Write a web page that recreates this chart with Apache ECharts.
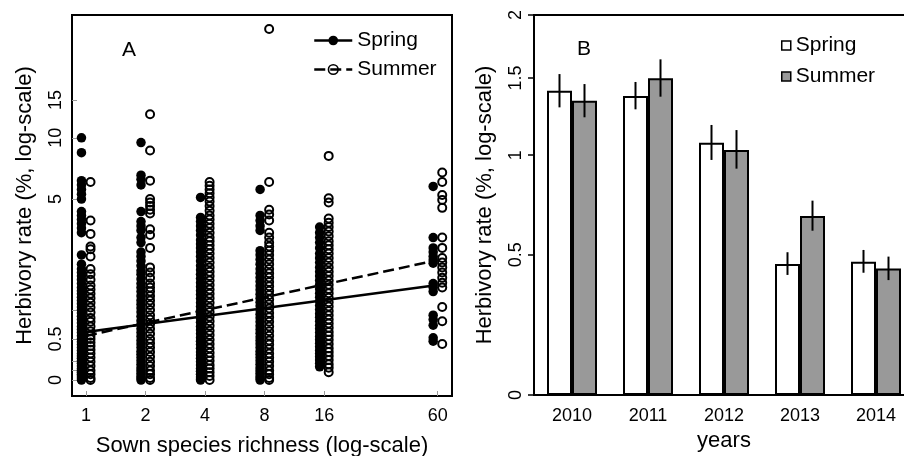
<!DOCTYPE html>
<html><head><meta charset="utf-8">
<script src="https://cdn.jsdelivr.net/npm/echarts@6/dist/echarts.min.js"></script>
<style>html,body{margin:0;padding:0;background:#fff}#c{width:904px;height:456px}</style>
</head><body><div id="c"></div>
<script>
// ---------- Panel A data (herbivory rate, %) ----------
const richness = [1, 2, 4, 8, 16, 60];
const spring_1 = [10.0, 8.5, 6.2, 5.9, 5.6, 5.3, 5.0, 4.3, 4.1, 3.9, 3.7, 3.5, 3.3, 2.45, 2.15, 2.0, 1.9, 1.8, 1.7, 1.6, 1.5, 1.42, 1.35, 1.27, 1.2, 1.13, 1.06, 1.0, 0.94, 0.88, 0.82, 0.76, 0.7, 0.65, 0.6, 0.55, 0.5, 0.46, 0.42, 0.38, 0.34, 0.3, 0.27, 0.24, 0.21, 0.18, 0.15, 0.12, 0.1, 0.08, 0.06, 0.04, 0.02, 0];
const summer_1 = [6.1, 3.85, 3.25, 2.75, 2.65, 2.4, 2.0, 1.85, 1.7, 1.55, 1.45, 1.35, 1.25, 1.15, 1.05, 0.95, 0.85, 0.78, 0.7, 0.62, 0.55, 0.5, 0.45, 0.4, 0.35, 0.3, 0.25, 0.2, 0.15, 0.1, 0.06, 0.02, 0];
const spring_2 = [9.5, 6.6, 6.3, 5.9, 4.3, 3.8, 3.6, 3.4, 3.1, 2.9, 2.55, 2.4, 2.25, 2.1, 1.95, 1.85, 1.72, 1.6, 1.5, 1.4, 1.3, 1.2, 1.12, 1.04, 0.96, 0.88, 0.8, 0.73, 0.66, 0.6, 0.54, 0.48, 0.43, 0.38, 0.33, 0.29, 0.25, 0.21, 0.17, 0.13, 0.1, 0.07, 0.04, 0.02, 0];
const summer_2 = [12.9, 8.7, 6.2, 5.0, 4.8, 4.6, 4.4, 4.2, 3.45, 3.2, 2.7, 2.05, 1.9, 1.75, 1.6, 1.5, 1.4, 1.3, 1.2, 1.1, 1.0, 0.9, 0.82, 0.74, 0.66, 0.58, 0.5, 0.44, 0.38, 0.32, 0.26, 0.2, 0.15, 0.1, 0.06, 0.02, 0];
const spring_4 = [5.1, 4.0, 3.8, 3.6, 3.4, 3.2, 3.0, 2.85, 2.7, 2.55, 2.4, 2.25, 2.1, 1.97, 1.85, 1.73, 1.62, 1.52, 1.42, 1.33, 1.24, 1.15, 1.07, 0.99, 0.91, 0.84, 0.77, 0.7, 0.64, 0.58, 0.52, 0.47, 0.42, 0.37, 0.32, 0.28, 0.24, 0.2, 0.16, 0.12, 0.09, 0.06, 0.03, 0.01, 0];
const summer_4 = [6.1, 5.85, 5.6, 5.35, 5.1, 4.85, 4.6, 4.35, 4.1, 3.9, 3.7, 3.5, 3.3, 3.1, 2.95, 2.8, 2.65, 2.5, 2.35, 2.2, 2.05, 1.92, 1.8, 1.68, 1.56, 1.45, 1.35, 1.25, 1.15, 1.05, 0.96, 0.87, 0.79, 0.71, 0.63, 0.56, 0.49, 0.43, 0.37, 0.31, 0.26, 0.21, 0.16, 0.12, 0.08, 0.04, 0];
const spring_8 = [5.6, 4.1, 3.85, 3.6, 3.4, 2.6, 2.45, 2.3, 2.15, 2.0, 1.88, 1.76, 1.65, 1.54, 1.44, 1.34, 1.25, 1.16, 1.08, 1.0, 0.92, 0.85, 0.78, 0.71, 0.65, 0.59, 0.53, 0.48, 0.43, 0.38, 0.33, 0.29, 0.25, 0.21, 0.17, 0.13, 0.1, 0.07, 0.04, 0.02, 0];
const summer_8 = [31.3, 6.1, 4.4, 4.15, 3.85, 3.3, 3.1, 2.9, 2.75, 2.6, 2.45, 2.3, 2.15, 2.0, 1.88, 1.76, 1.64, 1.53, 1.42, 1.32, 1.22, 1.12, 1.03, 0.94, 0.86, 0.78, 0.7, 0.62, 0.55, 0.48, 0.42, 0.36, 0.3, 0.25, 0.2, 0.15, 0.1, 0.06, 0.02, 0];
const spring_16 = [3.55, 3.3, 3.1, 2.9, 2.7, 2.5, 2.35, 2.2, 2.05, 1.92, 1.8, 1.68, 1.57, 1.46, 1.36, 1.27, 1.18, 1.09, 1.01, 0.93, 0.86, 0.79, 0.72, 0.66, 0.6, 0.54, 0.49, 0.44, 0.39, 0.34, 0.3, 0.26, 0.22, 0.18, 0.14];
const summer_16 = [8.2, 5.05, 4.8, 3.95, 3.75, 3.55, 3.35, 3.15, 2.95, 2.8, 2.65, 2.5, 2.35, 2.2, 2.05, 1.92, 1.8, 1.68, 1.57, 1.46, 1.36, 1.26, 1.16, 1.07, 0.98, 0.9, 0.82, 0.75, 0.68, 0.61, 0.55, 0.49, 0.43, 0.37, 0.32, 0.27, 0.22, 0.17, 0.13, 0.08];
const spring_60 = [5.8, 3.1, 2.7, 2.55, 2.4, 2.28, 2.18, 1.6, 1.5, 1.4, 0.9, 0.82, 0.72, 0.52, 0.47];
const summer_60 = [6.8, 6.1, 5.25, 4.95, 4.5, 3.1, 2.7, 2.35, 2.2, 2.05, 1.9, 1.75, 1.62, 1.5, 1.06, 0.79, 0.43];
const fitRichness = [1, 60];
const springFit = [0.61, 1.56];
const summerFit = [0.55, 2.28];
const xTickLabelsA = [1, 2, 4, 8, 16, 60];
const yTickLabelsA = [0, 0.5, 5, 10, 15];
const yTickMarksA = [0, 0.1, 0.2, 0.5, 1, 5, 10, 15];

// ---------- Panel B data ----------
const years = ['2010', '2011', '2012', '2013', '2014'];
const springMean = [1.41, 1.374, 1.074, 0.46, 0.47];
const springLow  = [1.297, 1.284, 0.973, 0.415, 0.424];
const springHigh = [1.529, 1.472, 1.183, 0.511, 0.521];
const summerMean = [1.342, 1.498, 1.031, 0.678, 0.442];
const summerLow  = [1.232, 1.369, 0.924, 0.608, 0.394];
const summerHigh = [1.457, 1.639, 1.151, 0.754, 0.492];
const yTickLabelsB = [0, 0.5, 1, 1.5, 2];

// ---------- helpers ----------
const T = v => Math.log1p(v);         // log(y+1) scale
const LX = v => Math.log2(v);         // log2 richness scale
const FONT = 'Liberation Sans, Arial, sans-serif';
const DODGE = 0.076;                  // horizontal dodge in log2 units
const BAR_W = 25;

const springCols = [spring_1, spring_2, spring_4, spring_8, spring_16, spring_60];
const summerCols = [summer_1, summer_2, summer_4, summer_8, summer_16, summer_60];
function pts(cols, dx) {
  const out = [];
  cols.forEach((col, i) => col.forEach(v => out.push([LX(richness[i]) + dx, T(v)])));
  return out;
}
function fmt(ticks, labels) {
  return v => { const k = ticks.findIndex(t => Math.abs(t - v) < 1e-6); return k >= 0 ? String(labels[k]) : ''; };
}
const xTA = xTickLabelsA.map(LX);
const yTA = yTickLabelsA.map(T);
const yTB = yTickLabelsB.map(T);

function errBar(lo, hi, dx) {
  return {
    type: 'custom', xAxisIndex: 1, yAxisIndex: 1, z: 10, silent: true,
    data: years.map((y, i) => [i, T(lo[i]), T(hi[i])]),
    renderItem(params, api) {
      const a = api.coord([api.value(0), api.value(1)]);
      const b = api.coord([api.value(0), api.value(2)]);
      return { type: 'line', shape: { x1: a[0] + dx, y1: a[1], x2: b[0] + dx, y2: b[1] },
               style: { stroke: '#000', lineWidth: 2 } };
    }
  };
}

const chart = echarts.init(document.getElementById('c'), null, { renderer: 'canvas' });
chart.setOption({
  animation: false,
  backgroundColor: '#fff',
  textStyle: { fontFamily: FONT, color: '#000' },
  title: [
    { text: 'A', left: 122, top: 40, padding: 0, textStyle: { fontSize: 21, fontWeight: 'normal', color: '#000', fontFamily: FONT } },
    { text: 'B', left: 577, top: 39, padding: 0, textStyle: { fontSize: 21, fontWeight: 'normal', color: '#000', fontFamily: FONT } }
  ],
  legend: [
    {
      orient: 'vertical', left: 313, top: 30, padding: 0, itemGap: 8, itemWidth: 38, itemHeight: 12,
      textStyle: { fontSize: 21, color: '#000', fontFamily: FONT, lineHeight: 21 },
      data: [
        { name: 'Spring', itemStyle: { color: '#000', borderWidth: 0 }, lineStyle: { color: '#000', width: 2.5, type: 'solid' } },
        { name: 'Summer', itemStyle: { color: 'rgba(0,0,0,0)', borderColor: '#000', borderWidth: 1.6 }, lineStyle: { color: '#000', width: 2.5, type: [11, 5] } }
      ]
    },
    {
      orient: 'vertical', left: 781, top: 35, padding: 0, itemGap: 10, itemWidth: 9, itemHeight: 9,
      textStyle: { fontSize: 21, color: '#000', fontFamily: FONT, lineHeight: 21 },
      data: [
        { name: 'Spring', icon: 'rect', itemStyle: { color: '#fff', borderColor: '#000', borderWidth: 1.5 } },
        { name: 'Summer', icon: 'rect', itemStyle: { color: '#999', borderColor: '#000', borderWidth: 1.5 } }
      ]
    }
  ],
  grid: [
    { left: 72, top: 15, width: 380, height: 381, outerBoundsMode: 'none', containLabel: false, show: true, borderColor: '#000', borderWidth: 2, backgroundColor: 'rgba(0,0,0,0)' },
    { left: 534, top: 15, width: 380, height: 380, outerBoundsMode: 'none', containLabel: false, show: true, borderColor: '#000', borderWidth: 2, backgroundColor: 'rgba(0,0,0,0)' }
  ],
  xAxis: [
    {
      type: 'value', gridIndex: 0, min: -0.235, max: 6.147,
      axisLine: { show: false, onZero: false }, splitLine: { show: false },
      axisTick: { show: true, inside: true, length: 5, customValues: xTA, lineStyle: { color: '#999', width: 1 } },
      axisLabel: { customValues: xTA, formatter: fmt(xTA, xTickLabelsA), fontSize: 18, color: '#000', margin: 11, fontFamily: FONT },
      name: 'Sown species richness (log-scale)', nameLocation: 'middle', nameGap: 39,
      nameTextStyle: { fontSize: 22, color: '#000', fontFamily: FONT }
    },
    {
      type: 'category', gridIndex: 1, data: years,
      axisLine: { show: false, onZero: false }, axisTick: { show: false }, splitLine: { show: false },
      axisLabel: { fontSize: 18, color: '#000', margin: 12, fontFamily: FONT },
      name: 'years', nameLocation: 'middle', nameGap: 34,
      nameTextStyle: { fontSize: 22, color: '#000', fontFamily: FONT }
    }
  ],
  yAxis: [
    {
      type: 'value', gridIndex: 0, min: -0.158, max: 3.614,
      axisLine: { show: false, onZero: false }, splitLine: { show: false },
      axisTick: { show: true, inside: true, length: 5, customValues: yTickMarksA.map(T), lineStyle: { color: '#999', width: 1 } },
      axisLabel: { customValues: yTA, formatter: fmt(yTA, yTickLabelsA), rotate: 90, fontSize: 18, color: '#000', margin: 7, fontFamily: FONT },
      name: 'Herbivory rate (%, log-scale)', nameLocation: 'middle', nameGap: 36,
      nameTextStyle: { fontSize: 22, color: '#000', fontFamily: FONT }
    },
    {
      type: 'value', gridIndex: 1, min: 0, max: Math.log(3),
      axisLine: { show: false, onZero: false }, splitLine: { show: false },
      axisTick: { show: true, inside: false, length: 6, customValues: yTB, lineStyle: { color: '#000', width: 1.5 } },
      axisLabel: { customValues: yTB, formatter: fmt(yTB, yTickLabelsB), rotate: 90, fontSize: 18, color: '#000', margin: 9, fontFamily: FONT },
      name: 'Herbivory rate (%, log-scale)', nameLocation: 'middle', nameGap: 38,
      nameTextStyle: { fontSize: 22, color: '#000', fontFamily: FONT }
    }
  ],
  series: [
    { name: 'Spring', type: 'line', xAxisIndex: 0, yAxisIndex: 0, z: 5, symbol: 'none', silent: true,
      data: fitRichness.map((r, i) => [LX(r), T(springFit[i])]),
      itemStyle: { color: '#000' }, lineStyle: { color: '#000', width: 2.5 } },
    { name: 'Summer', type: 'line', xAxisIndex: 0, yAxisIndex: 0, z: 5, symbol: 'none', silent: true,
      data: fitRichness.map((r, i) => [LX(r), T(summerFit[i])]),
      itemStyle: { color: '#000' }, lineStyle: { color: '#000', width: 2.5, type: [11, 5] } },
    { name: 'Spring', type: 'scatter', xAxisIndex: 0, yAxisIndex: 0, z: 2, symbol: 'circle', symbolSize: 9.5, silent: true,
      data: pts(springCols, -DODGE), itemStyle: { color: '#000', opacity: 1 } },
    { name: 'Summer', type: 'scatter', xAxisIndex: 0, yAxisIndex: 0, z: 3, symbol: 'circle', symbolSize: 8, silent: true,
      data: pts(summerCols, DODGE), itemStyle: { color: 'rgba(0,0,0,0)', borderColor: '#000', borderWidth: 2, opacity: 1 } },
    { name: 'Spring', type: 'bar', xAxisIndex: 1, yAxisIndex: 1, barWidth: BAR_W, barGap: '0%', silent: true,
      data: springMean.map(T), itemStyle: { color: '#fff', borderColor: '#000', borderWidth: 2 } },
    { name: 'Summer', type: 'bar', xAxisIndex: 1, yAxisIndex: 1, barWidth: BAR_W, barGap: '0%', silent: true,
      data: summerMean.map(T), itemStyle: { color: '#999', borderColor: '#000', borderWidth: 2 } },
    errBar(springLow, springHigh, -BAR_W / 2),
    errBar(summerLow, summerHigh, BAR_W / 2)
  ]
});
</script>
</body></html>
